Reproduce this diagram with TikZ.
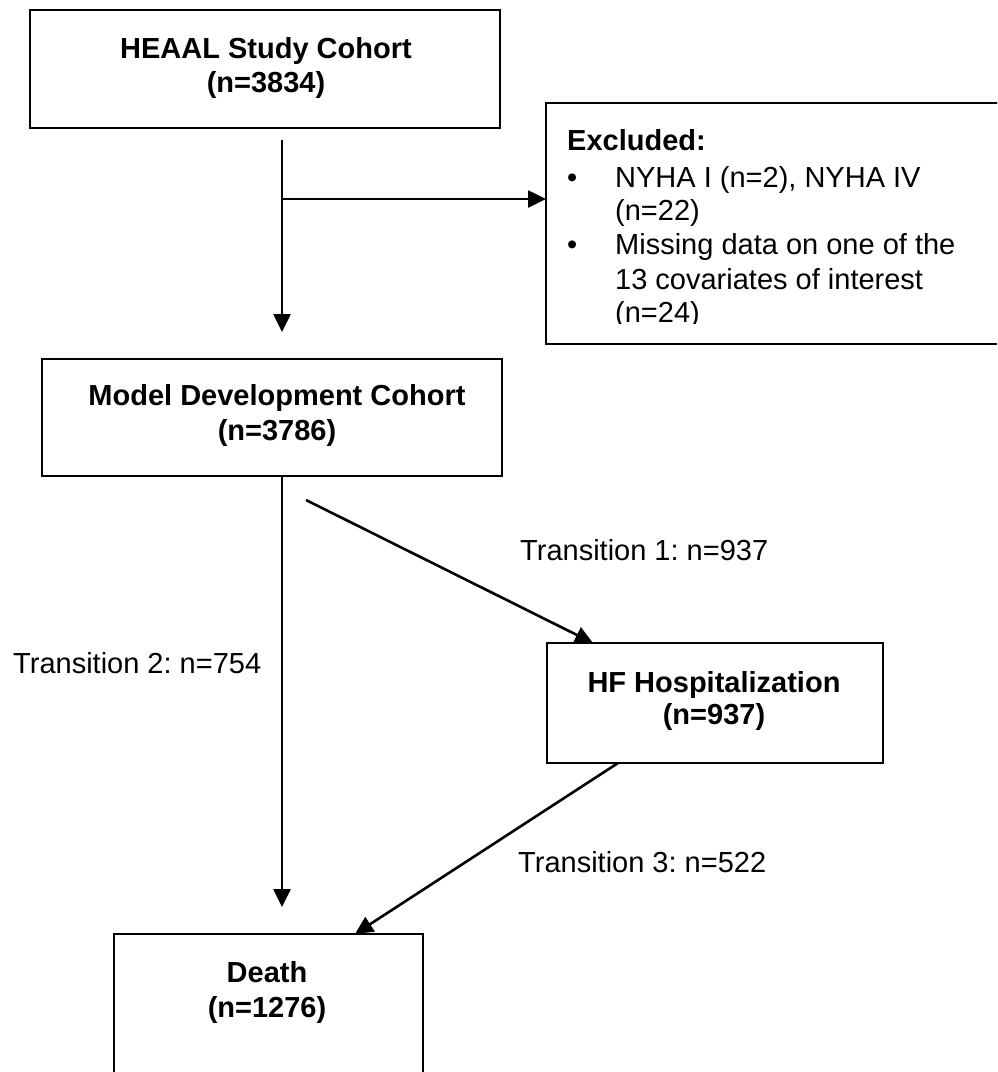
\documentclass[tikz,border=0pt]{standalone}
\usepackage{fontspec}
\setmainfont{Liberation Sans}
\usetikzlibrary{arrows.meta,calc}
\frenchspacing
\begin{document}
\begin{tikzpicture}[x=1pt,y=-1pt,
  box/.style={draw, line width=2.2pt, rectangle, inner sep=0pt, outer sep=0pt},
  hd/.style={anchor=base, inner sep=0pt, font=\fontsize{29}{34}\selectfont\bfseries},
  tx/.style={anchor=base west, inner sep=0pt, font=\fontsize{29}{34}\selectfont},
  arr/.style={line width=2.6pt, -{Triangle[length=18pt,width=17pt]}}
]
\useasboundingbox (0,0) rectangle (997,1072);
\clip (0,0) rectangle (997,1072);

% boxes
\node[box, minimum width=470pt, minimum height=118pt] (top) at (265,69) {};
\node[box, minimum width=460pt, minimum height=117pt] (model) at (272,417.5) {};
\node[box, minimum width=336pt, minimum height=120pt] (hf) at (715,703) {};
\node[box, minimum width=309pt, minimum height=160pt] (death) at (268.5,1014) {};
\node[box, minimum width=470pt, minimum height=241pt] (excl) at (781,223.5) {};

% box texts
\node[hd] (topA) at (266,58) {HEAAL Study Cohort};
\node[hd] (topB) at (266,92) {(n=3834)};
\node[hd] (modA) at (277,405) {Model Development Cohort};
\node[hd] (modB) at (277,440) {(n=3786)};
\node[hd] (hfA) at (714,692) {HF Hospitalization};
\node[hd] (hfB) at (714,724) {(n=937)};
\node[hd] (dA) at (267,982) {Death};
\node[hd] (dB) at (267,1017) {(n=1276)};

% excluded text (clipped like the original text box)
\begin{scope}
\clip (546,103) rectangle (997,323);
\node[tx, font=\fontsize{29}{34}\selectfont\bfseries] (exA) at (567,150) {Excluded:};
\node[tx] (bu1) at (567,187) {•};
\node[tx] (ex1) at (615,187) {NYHA I (n=2), NYHA IV};
\node[tx] (ex2) at (615,220) {(n=22)};
\node[tx] (bu2) at (567,254) {•};
\node[tx] (ex3) at (615,254) {Missing data on one of the};
\node[tx] (ex4) at (615,289) {13 covariates of interest};
\node[tx] (ex5) at (615,322) {(n=24)};
\end{scope}

% transition labels
\node[tx] (t1) at (520,560) {Transition 1: n=937};
\node[tx] (t2) at (13,673) {Transition 2: n=754};
\node[tx] (t3) at (518,872) {Transition 3: n=522};

% connectors
\coordinate (s1) at (282,140);
\draw[arr] (s1) -- ($(s1 |- model.north)+(0,-27)$);
\coordinate (s2) at (282,199);
\draw[arr] (s2) -- (s2 -| excl.west);
\draw[arr] (model.south -| s1) -- ($(s1 |- death.north)+(0,-27)$);
\coordinate (s4) at (306,500);
\draw[arr] (s4) -- ([xshift=46pt]hf.north west);
\draw[arr] ([xshift=71pt]hf.south west) -- ([xshift=241pt]death.north west);
\end{tikzpicture}
\end{document}
